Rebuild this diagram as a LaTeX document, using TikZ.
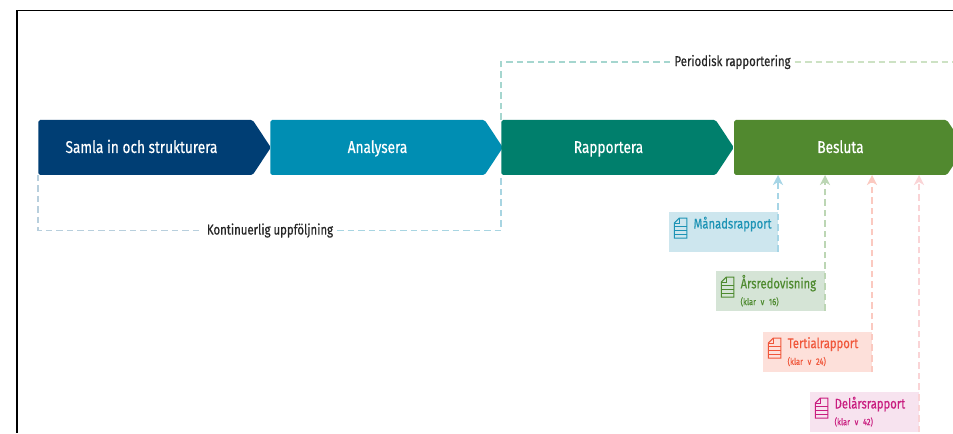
\documentclass[tikz,border=0pt]{standalone}
\usepackage{fontspec}
\setmainfont{Fira Sans}[FakeStretch=0.8, FakeBold=0.45]
\usetikzlibrary{arrows.meta, shapes.symbols}
\definecolor{samlablue}{HTML}{003E74}
\definecolor{analysblue}{HTML}{008EB3}
\definecolor{rappgreen}{HTML}{007F6C}
\definecolor{beslutgreen}{HTML}{51892F}
\definecolor{kontleft}{HTML}{B8CFDD}
\definecolor{kontright}{HTML}{A8D5E2}
\definecolor{periodleft}{HTML}{A5D6CF}
\definecolor{periodright}{HTML}{CDE2C4}
\definecolor{manadfill}{HTML}{CDE6EE}
\definecolor{manadtext}{HTML}{1C93B5}
\definecolor{manadline}{HTML}{A6D5E6}
\definecolor{arsfill}{HTML}{D5E4D6}
\definecolor{arstext}{HTML}{4E8A2F}
\definecolor{arsline}{HTML}{BCD6B4}
\definecolor{tertfill}{HTML}{FDE0DA}
\definecolor{terttext}{HTML}{F0563A}
\definecolor{tertline}{HTML}{FBC9C0}
\definecolor{delarfill}{HTML}{F7E3EF}
\definecolor{delartext}{HTML}{C91D7F}
\definecolor{delarline}{HTML}{FAD4D6}
\tikzset{>={Stealth[length=0.2cm, width=0.2cm, inset=0.06cm]}}
\tikzset{
  stage/.style={signal, signal to=east, signal pointer angle=113, fill=#1, text=white,
    minimum width=4.65cm, minimum height=1.1cm, inner sep=0pt, outer sep=0pt,
    text height=0.27cm, text depth=0.05cm,
    rounded corners=1pt, font=\fontsize{9.7pt}{11pt}\selectfont},
  loopline/.style={draw=#1, line width=1pt, dash pattern=on 0.13cm off 0.08cm},
  looplabel/.style={inner sep=0pt, outer sep=0.08cm, text=black!85, font=\fontsize{8.1pt}{9pt}\selectfont},
  reportbox/.style={fill=#1fill, text=#1text, minimum width=2.17cm, minimum height=0.8cm, inner sep=0pt,
    text width=2.17cm, anchor=south east, font=\fontsize{8pt}{9.5pt}\selectfont,
    execute at begin node={\leftskip=0.49cm \rightskip=0pt plus 1fil}},
  docicon/.pic={
    \draw[#1, line width=0.6pt] (-0.12,-0.2) -- (0.13,-0.2) -- (0.13,0.2) -- (-0.02,0.2)
      -- (-0.12,0.1) -- cycle;
    \draw[#1, line width=0.4pt] (-0.12,0.1) -- (-0.02,0.1) -- (-0.02,0.2);
    \foreach \yy in {-0.12,-0.04,0.04}
      \draw[#1, line width=0.4pt] (-0.12,\yy) -- (0.13,\yy);
  }
}
\newcommand{\klartext}[1]{{\fontsize{5.3pt}{7pt}\selectfont #1}}
\begin{document}
\begin{tikzpicture}

  \useasboundingbox (0, 0) rectangle (19.06, 8.66);
  \clip (0, 0) rectangle (19.06, 8.66);
  \fill[white] (0, 0) rectangle (19.06, 8.66);

  % frame, cut off on the right and at the bottom
  \draw[black, line width=1.1pt] (19.06, 8.45) -- (0.34, 8.45) -- (0.34, 0);

  % process
  \node[stage=samlablue] (samla) at (2.91, 5.71) {Samla in och strukturera\hspace{0.16cm}\null};
  \node[stage=analysblue] (analys) at (7.55, 5.71) {Analysera};
  \node[stage=rappgreen] (rapp) at (12.17, 5.71) {Rapportera};
  \node[stage=beslutgreen, minimum width=4.62cm] (beslut) at (16.81, 5.71) {Besluta};

  % the two loops
  \node[looplabel] (kont) at (5.4, 4.05) {Kontinuerlig uppföljning};
  \node[looplabel] (period) at (14.65, 7.42) {Periodisk rapportering};
  \coordinate (periodend) at (19.06, 7.42);

  \draw[loopline=kontleft] (samla.south west) |- (kont.west);
  \draw[loopline=kontright] (kont.east) -| (rapp.south west);
  \draw[loopline=periodleft] (rapp.north west) |- (period.west);
  \draw[loopline=periodright] (period.east) -- (periodend);

  % reports
  \node[reportbox=manad] (manad) at (15.56, 3.62)
    {Månadsrapport\\\klartext{\phantom{(klar v 16)}}};
  \node[reportbox=ars] (arsred) at (16.5, 2.44)
    {Årsredovisning\\\klartext{(klar v 16)}};
  \node[reportbox=tert] (tertial) at (17.44, 1.22)
    {Tertialrapport\\\klartext{(klar v 24)}};
  \node[reportbox=delar] (delar) at (18.38, 0.02)
    {Delårsrapport\\\klartext{(klar v 42)}};

  \pic at ([xshift=0.23cm, yshift=0.07cm]manad.west) {docicon=manadtext};
  \pic at ([xshift=0.23cm, yshift=0.07cm]arsred.west) {docicon=arstext};
  \pic at ([xshift=0.23cm, yshift=0.07cm]tertial.west) {docicon=terttext};
  \pic at ([xshift=0.23cm, yshift=0.07cm]delar.west) {docicon=delartext};

  \draw[->, loopline=manadline] (manad.south east) -- (manad.south east |- beslut.south);
  \draw[->, loopline=arsline] (arsred.south east) -- (arsred.south east |- beslut.south);
  \draw[->, loopline=tertline] (tertial.south east) -- (tertial.south east |- beslut.south);
  \draw[->, loopline=delarline] (delar.south east) -- (delar.south east |- beslut.south);

\end{tikzpicture}
\end{document}
